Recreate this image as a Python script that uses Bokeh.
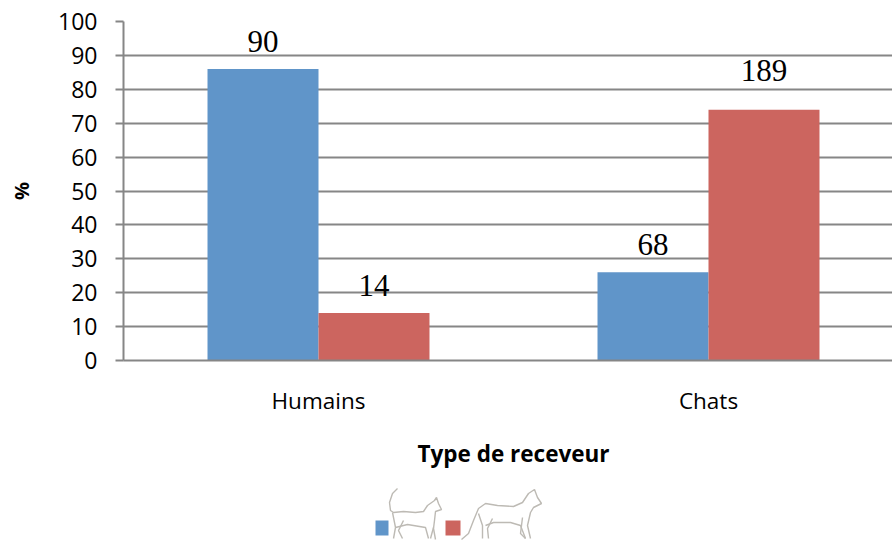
from bokeh.plotting import figure
from bokeh.layouts import column
from bokeh.models import Range1d, FixedTicker, Title
from bokeh.core.properties import value
from bokeh.embed import file_html
from bokeh.resources import INLINE

categories = ["Humains", "Chats"]
series_blue = [86, 26]
series_red = [14, 74]
labels_blue = ["90", "68"]
labels_red = ["14", "189"]
label_offset_blue = [-27, -28]
label_offset_red = [-28, -39]
y_ticks = list(range(0, 101, 10))
x_title = "Type de receveur"
y_title = "%"

BLUE = "#6095C9"
RED = "#CC655F"
GREY = "#868686"
BAR_W = 0.2846

p = figure(width=892, height=485, output_backend="svg", toolbar_location=None,
           x_range=Range1d(0, 769 / 390), y_range=Range1d(0, 100),
           min_border_left=123, min_border_right=0, min_border_top=21, min_border_bottom=125)
p.outline_line_color = None
p.background_fill_color = "white"

centers = [i + 0.5 for i in range(len(categories))]
p.vbar(x=[c - BAR_W / 2 for c in centers], top=series_blue, width=BAR_W, color=BLUE, line_color=None)
p.vbar(x=[c + BAR_W / 2 for c in centers], top=series_red, width=BAR_W, color=RED, line_color=None)
for xs, ys, txt, off in [
    ([c - BAR_W / 2 for c in centers], series_blue, labels_blue, label_offset_blue),
    ([c + BAR_W / 2 for c in centers], series_red, labels_red, label_offset_red),
]:
    p.text(x=xs, y=ys, text=txt, y_offset=off, text_align="center", text_baseline="alphabetic",
           text_font=value("Liberation Serif"), text_font_size="31px", text_color="black")

p.xgrid.visible = False
p.ygrid.ticker = FixedTicker(ticks=y_ticks)
p.ygrid.grid_line_color = GREY
p.ygrid.grid_line_width = 2

ya = p.yaxis[0]
ya.ticker = FixedTicker(ticks=y_ticks)
ya.axis_line_color = GREY
ya.axis_line_width = 2
ya.major_tick_line_color = GREY
ya.major_tick_line_width = 2
ya.major_tick_out = 8
ya.major_tick_in = 0
ya.minor_tick_line_color = None
ya.major_label_standoff = 18
ya.major_label_text_font = "Open Sans"
ya.major_label_text_font_size = "23px"
ya.major_label_text_color = "black"
ya.axis_label = y_title
ya.axis_label_text_font = "Open Sans"
ya.axis_label_text_font_style = "bold"
ya.axis_label_text_font_size = "20px"
ya.axis_label_text_color = "black"
ya.axis_label_standoff = 20

xa = p.xaxis[0]
xa.ticker = FixedTicker(ticks=centers)
xa.major_label_overrides = {c: n for c, n in zip(centers, categories)}
xa.axis_line_color = GREY
xa.axis_line_width = 2
xa.major_tick_line_color = None
xa.minor_tick_line_color = None
xa.major_tick_out = 0
xa.major_tick_in = 0
xa.major_label_standoff = 24
xa.major_label_text_font = "Open Sans"
xa.major_label_text_font_size = "22.5px"
xa.major_label_text_color = "black"

# The axis title sits mid-way between the two categories, not at the middle of the cropped frame
p.add_layout(Title(text=x_title, align="left", offset=294, standoff=34,
                   text_font="Open Sans", text_font_style="bold", text_font_size="22.5px",
                   text_color="black"), "below")

# Legend strip: two swatches, each paired with a hand-sketched cat
leg = figure(width=892, height=56, output_backend="svg", toolbar_location=None,
             x_range=Range1d(123, 892), y_range=Range1d(541, 485),
             min_border=0, min_border_left=123, min_border_right=0,
             x_axis_location=None, y_axis_location=None)
leg.outline_line_color = None
leg.xgrid.visible = False
leg.ygrid.visible = False
leg.quad(left=[375], right=[388], top=[520], bottom=[535], color=BLUE, line_color=None)
leg.quad(left=[445], right=[460], top=[520], bottom=[535], color=RED, line_color=None)

SKETCH = "#BDBAB4"
small_cat = [
    ([397, 392, 389, 390, 393, 403, 415, 423, 427, 434, 436, 438, 441, 435, 434, 433, 435],
     [488, 493, 502, 510, 512, 511, 512, 511, 505, 500, 497, 503, 509, 511, 520, 528, 539]),
    ([392, 395, 393], [512, 527, 538]),
    ([403, 398, 402], [520, 530, 538]),
    ([395, 407, 425, 428], [527, 524, 527, 538]),
    ([433, 430], [527, 538]),
]
big_cat = [
    ([461, 468, 473, 478, 485, 497, 513, 522, 528, 534, 537, 541, 533, 530, 527, 530],
     [539, 533, 520, 508, 503, 505, 506, 502, 493, 489, 497, 503, 507, 512, 525, 538]),
    ([478, 482, 482], [513, 525, 538]),
    ([492, 487, 488], [518, 528, 538]),
    ([485, 493, 510, 520, 525], [525, 522, 522, 525, 538]),
    ([522, 520, 525], [517, 533, 538]),
]
for xs, ys in small_cat + big_cat:
    leg.line(xs, ys, line_color=SKETCH, line_width=1.4)

page = column(p, leg, spacing=0)
open("out.html", "w").write(file_html(page, INLINE))
